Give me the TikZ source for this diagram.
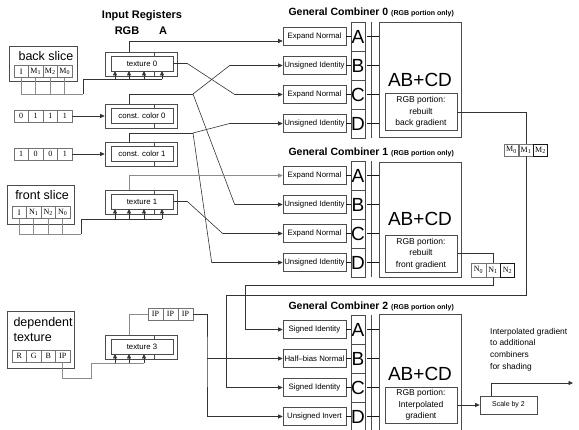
\documentclass[tikz,border=0pt]{standalone}
\usepackage{fontspec}
\setmainfont{Liberation Sans}
\newfontfamily\cellfont{Liberation Serif}
\usetikzlibrary{arrows.meta}
\tikzset{
  bx/.style={draw=black!70, line width=0.6pt, inner sep=0pt},
  outerreg/.style={bx, minimum width=72pt, minimum height=24pt},
  innerreg/.style={bx, minimum width=62pt, minimum height=15pt, font=\fontsize{7.8}{9}\selectfont},
  modbox/.style={bx, minimum width=63pt, minimum height=18pt, font=\fontsize{7.8}{9}\selectfont},
  letterbox/.style={bx, minimum width=14pt, minimum height=29pt, font=\fontsize{19}{20}\selectfont},
  combbox/.style={bx, minimum width=82pt},
  rgbbox/.style={bx, minimum width=72pt, minimum height=37pt, align=center, font=\fontsize{8.5}{11.5}\selectfont},
  cellbox/.style={draw=black!55, line width=0.5pt, minimum width=14.5pt, minimum height=12pt, inner sep=0pt, font=\cellfont\fontsize{8}{9}\selectfont},
  strongcell/.style={cellbox, draw=black!90, line width=0.9pt},
  slicebox/.style={bx, minimum width=67pt},
  bigtext/.style={font=\fontsize{12.5}{15}\selectfont},
  wire/.style={draw=black!80, line width=0.6pt},
  lwire/.style={draw=black!45, line width=0.6pt},
  tipped/.style={-{Triangle[length=4.5pt,width=4pt]}},
  tickmark/.style={draw=black!90, line width=1.4pt},
  title/.style={anchor=west, font=\bfseries\fontsize{10.5}{12}\selectfont},
  smallbold/.style={font=\bfseries\fontsize{7}{8}\selectfont}
}
\begin{document}
\begin{tikzpicture}[x=1pt,y=-1pt]
\useasboundingbox[fill=white] (0,0) rectangle (579,430);

% ---------- headings ----------
\node[font=\bfseries\fontsize{11}{12}\selectfont] (ir) at (142,16) {Input Registers};
\node[font=\bfseries\fontsize{11}{12}\selectfont] (rgbl) at (127,31) {RGB};
\node[font=\bfseries\fontsize{11}{12}\selectfont] (al) at (163,31) {A};

% ---------- input registers ----------
\node[outerreg] (t0o) at (141,64) {};
\node[innerreg] (t0i) at (142,63.5) {texture 0};
\node[outerreg] (cc0o) at (141,116) {};
\node[innerreg] (cc0i) at (142,115.5) {const. color 0};
\node[outerreg] (cc1o) at (141,154) {};
\node[innerreg] (cc1i) at (142,153.5) {const. color 1};
\node[outerreg] (t1o) at (141,202) {};
\node[innerreg] (t1i) at (142,201.5) {texture 1};
\node[outerreg] (t3o) at (141,347) {};
\node[innerreg] (t3i) at (142,346.5) {texture 3};
\foreach \a/\b/\c/\d in {52/56/71/76, 104/108/123/128, 142/146/161/166, 190/194/209/214, 335/339/354/359}{
  \draw[bx] (154,\a) -- (154,\b);
  \draw[bx] (154,\c) -- (154,\d);
}

% ---------- back slice ----------
\node[slicebox, minimum width=68pt, minimum height=35pt] (bs) at (43,63.5) {};
\node[bigtext] (bst) at (46,56) {back slice};
\node[cellbox] (b1) at (21.25,71.5) {I};
\node[cellbox] (b2) at (35.75,71.5) {M\textsubscript{1}};
\node[cellbox] (b3) at (50.25,71.5) {M\textsubscript{2}};
\node[cellbox] (b4) at (64.75,71.5) {M\textsubscript{0}};
\coordinate (bjoin) at (83,94);
\draw[lwire] (b1.south) |- (bjoin);
\foreach \n in {b2,b3,b4} \draw[lwire] (\n.south) -- (\n.south |- bjoin);
\draw[wire] (bjoin) |- (162,79);
\foreach \x in {115,129,144,162} \draw[wire,tipped] (\x,79) -- (\x,71);

% ---------- constant cells ----------
\node[cellbox] (k1) at (21.25,116) {0};
\node[cellbox] (k2) at (35.75,116) {1};
\node[cellbox] (k3) at (50.25,116) {1};
\node[cellbox] (k4) at (64.75,116) {1};
\draw[wire,tipped] (k4.east) -- (cc0o.west);
\node[cellbox] (q1) at (21.25,154) {1};
\node[cellbox] (q2) at (35.75,154) {0};
\node[cellbox] (q3) at (50.25,154) {0};
\node[cellbox] (q4) at (64.75,154) {1};
\draw[wire,tipped] (q4.east) -- (cc1o.west);

% ---------- front slice ----------
\node[slicebox, minimum height=39pt] (fs) at (40.5,204.5) {};
\node[bigtext] (fst) at (42,195) {front slice};
\node[cellbox] (f1) at (19.25,212.5) {I};
\node[cellbox] (f2) at (33.75,212.5) {N\textsubscript{1}};
\node[cellbox] (f3) at (48.25,212.5) {N\textsubscript{2}};
\node[cellbox] (f4) at (62.75,212.5) {N\textsubscript{0}};
\coordinate (fjoin) at (81,234);
\draw[lwire] (f1.south) |- (fjoin);
\foreach \n in {f2,f3,f4} \draw[lwire] (\n.south) -- (\n.south |- fjoin);
\draw[wire] (fjoin) |- (162,219);
\foreach \x in {115,129,144,162} \draw[wire,tipped] (\x,219) -- (\x,209);

% ---------- dependent texture ----------
\node[slicebox, minimum height=57pt] (dt) at (40.5,339.5) {};
\node[bigtext, anchor=west, align=left] (dtt) at (10,329.5) {dependent\\texture};
\node[cellbox] (d1) at (19.25,356) {R};
\node[cellbox] (d2) at (33.75,356) {G};
\node[cellbox] (d3) at (48.25,356) {B};
\node[cellbox] (d4) at (62.75,356) {IP};
\coordinate (djoin) at (91,378);
\draw[lwire] (d4.south) |- (djoin) |- (144,363);
\foreach \x in {115,129,144} \draw[wire,tipped] (\x,363) -- (\x,354);

% ---------- IP cells ----------
\node[cellbox, minimum width=15pt] (ip1) at (155.5,314) {IP};
\node[cellbox, minimum width=15pt] (ip2) at (170.5,314) {IP};
\node[cellbox, minimum width=15pt] (ip3) at (185.5,314) {IP};
\draw[lwire] ([xshift=-12pt]t3o.north) |- (ip1.west);

% ---------- combiners ----------
\foreach \k/\ty/\cy/\ch/\ay in {0/12/79.5/115/80, 1/152/219.5/115/219, 2/306/375/122/374}{
  \node[combbox, minimum height=\ch pt] (cb\k) at (420,\cy) {};
  \node[font=\fontsize{19}{20}\selectfont] (ab\k) at (420,\ay) {AB+CD};
}
\node[title] (ti0) at (285,12) {General Combiner 0 {\fontsize{7}{8}\selectfont (RGB portion only)}};
\node[title] (ti1) at (285,152) {General Combiner 1 {\fontsize{7}{8}\selectfont (RGB portion only)}};
\node[title] (ti2) at (285,306) {General Combiner 2 {\fontsize{7}{8}\selectfont (RGB portion only)}};

\node[rgbbox] (r0) at (421,112) {RGB portion:\\rebuilt\\back gradient};
\node[rgbbox] (r1) at (421,253.5) {RGB portion:\\rebuilt\\front gradient};
\node[rgbbox, minimum height=36pt] (r2) at (421,405) {RGB portion:\\Interpolated\\gradient};

% modifier boxes and letters
\foreach \k/\ya/\yb/\yc/\yd/\ma/\mb/\mc/\md in {
  0/36.5/65.5/94.5/123.5/Expand Normal/Unsigned Identity/Expand Normal/Unsigned Identity,
  1/175.5/204.5/233.5/262.5/Expand Normal/Unsigned Identity/Expand Normal/Unsigned Identity,
  2/329.5/358.5/387.5/416.5/Signed Identity/Half--bias Normal/Signed Identity/Unsigned Invert}{
  \node[modbox] (m\k a) at (314.5,\ya) {\ma};
  \node[modbox] (m\k b) at (314.5,\yb) {\mb};
  \node[modbox] (m\k c) at (314.5,\yc) {\mc};
  \node[modbox] (m\k d) at (314.5,\yd) {\md};
  \node[letterbox] (l\k a) at (358,\ya) {A};
  \node[letterbox] (l\k b) at (358,\yb) {B};
  \node[letterbox] (l\k c) at (358,\yc) {C};
  \node[letterbox] (l\k d) at (358,\yd) {D};
  \draw[bx] (371,{\ya-14.5}) -- (371,{\yd+14.5});
  \foreach \r in {a,b,c,d}{
    \draw[tickmark] (m\k\r.east) -- (l\k\r.west);
    \draw[tickmark] ([xshift=1.5pt]l\k\r.east) -- (l\k\r.east -| cb\k.west);
  }
}

% ---------- wires into combiners 0 and 1 ----------
\draw[wire,tipped] ([xshift=-12pt]t0o.north) |- ([yshift=-4.5pt]m0a.west);
\draw[wire,tipped] (t0i.east) -- ++(14,0) -- ([xshift=-48pt]m0c.west) -- (m0c.west);
\coordinate (s0) at (193,94);
\draw[wire] ([xshift=-12pt]cc0o.north) |- (s0);
\draw[wire,tipped] (s0) -- ([xshift=-53pt]m0b.west) -- (m0b.west);
\draw[wire,tipped] (s0) -- ([xshift=-48pt]m1b.west) -- (m1b.west);
\coordinate (s1) at (193,133);
\draw[wire] ([xshift=-12pt]cc1o.north) |- (s1);
\draw[wire,tipped] (s1) -- ([xshift=-53pt]m0d.west) -- (m0d.west);
\draw[wire,tipped] (s1) -- ([xshift=-71pt]m1d.west) -- (m1d.west);
\draw[lwire,tipped] ([xshift=-12pt]t1o.north) |- (m1a.west);
\draw[wire,tipped] (t1i.east) -- ++(14,0) -- ([xshift=-60pt]m1c.west) -- (m1c.west);

% ---------- gradient cells ----------
\node[cellbox, minimum width=14.7pt] (mm0) at (511.5,150) {M\textsubscript{0}};
\node[cellbox, minimum width=14.7pt] (mm1) at (526,150) {M\textsubscript{1}};
\node[strongcell, minimum width=14.7pt] (mm2) at (540.5,150) {M\textsubscript{2}};
\node[cellbox, minimum height=14pt] (nn0) at (478.5,270) {N\textsubscript{0}};
\node[cellbox, minimum height=14pt] (nn1) at (493,270) {N\textsubscript{1}};
\node[strongcell, minimum height=14pt] (nn2) at (507.5,270) {N\textsubscript{2}};

\draw[wire] (r0.east) -| (mm1.north);
\coordinate (g0) at (226,295);
\draw[wire,tipped] (mm1.south) |- (g0) |- (m2c.west);
\draw[wire] (r1.east) -| (nn1.north);
\coordinate (g1) at (245,285);
\draw[wire,tipped] (nn1.south) |- (g1) |- (m2a.west);

% ---------- IP into combiner 2 ----------
\coordinate (ipj) at (207,358.5);
\draw[wire,tipped] (ip3.east) -| (ipj) |- (m2d.west);
\draw[wire,tipped] (ipj) -- (m2b.west);

% ---------- output ----------
\node[bx, minimum width=57pt, minimum height=18pt, font=\fontsize{7}{8}\selectfont] (sc) at (508.5,405) {Scale by 2};
\draw[wire,tipped] (r2.east) -- (sc.west);
\coordinate (outend) at (573,383);
\draw[wire,tipped] ([xshift=-17.5pt]sc.north) |- (outend);
\node[anchor=north west, align=left, inner sep=0pt, font=\fontsize{8.4}{11.7}\selectfont] (note) at (490,328) {Interpolated gradient\\to additional\\combiners\\for shading};

\end{tikzpicture}
\end{document}
